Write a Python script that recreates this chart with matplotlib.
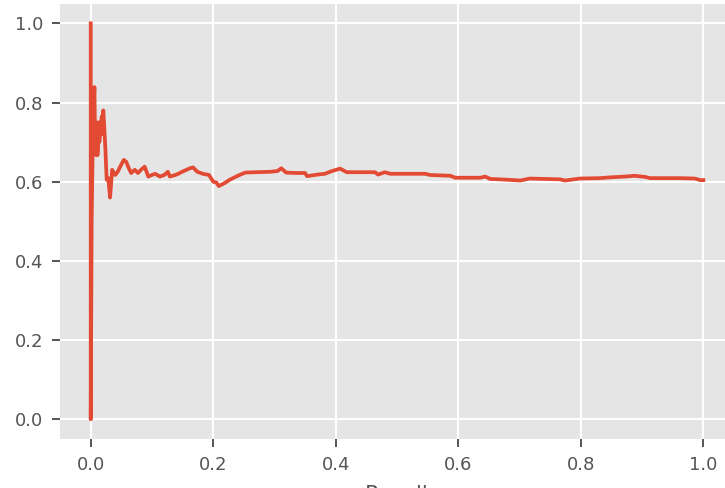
import matplotlib
matplotlib.use('Agg')
import matplotlib.pyplot as plt

# precision / recall pairs, ordered by increasing recall
recall = [
    0.0, 0.0, 0.0015, 0.003, 0.004, 0.005, 0.006, 0.007, 0.008, 0.009,
    0.010, 0.011, 0.012, 0.013, 0.014, 0.016, 0.018, 0.019, 0.0205, 0.022,
    0.024, 0.026, 0.0287, 0.0315, 0.035, 0.040, 0.044, 0.048, 0.054, 0.058,
    0.061, 0.066, 0.072, 0.077, 0.082, 0.088, 0.094, 0.100, 0.105, 0.113,
    0.120, 0.126, 0.129, 0.138, 0.143, 0.149, 0.162, 0.167, 0.174, 0.183,
    0.193, 0.200, 0.205, 0.209, 0.218, 0.227, 0.240, 0.252, 0.270, 0.293,
    0.305, 0.311, 0.319, 0.335, 0.350, 0.353, 0.370, 0.382, 0.394, 0.407,
    0.418, 0.440, 0.464, 0.469, 0.480, 0.489, 0.520, 0.546, 0.554, 0.587,
    0.595, 0.620, 0.636, 0.644, 0.652, 0.680, 0.701, 0.717, 0.740, 0.766,
    0.774, 0.799, 0.831, 0.848, 0.872, 0.888, 0.905, 0.913, 0.940, 0.962,
    0.986, 0.995, 1.0,
]
precision = [
    1.0, 0.0, 0.5, 0.667, 0.75, 0.8, 0.839, 0.714, 0.75, 0.667,
    0.727, 0.667, 0.692, 0.75, 0.70, 0.73, 0.765, 0.72, 0.78, 0.74,
    0.68, 0.605, 0.609, 0.560, 0.630, 0.617, 0.625, 0.638, 0.655, 0.650,
    0.638, 0.622, 0.630, 0.622, 0.630, 0.638, 0.613, 0.617, 0.620, 0.613,
    0.617, 0.625, 0.613, 0.617, 0.620, 0.625, 0.634, 0.636, 0.625, 0.620,
    0.617, 0.600, 0.598, 0.589, 0.596, 0.605, 0.615, 0.623, 0.624, 0.625,
    0.627, 0.634, 0.623, 0.622, 0.622, 0.614, 0.618, 0.620, 0.627, 0.633,
    0.624, 0.624, 0.624, 0.618, 0.624, 0.620, 0.620, 0.620, 0.617, 0.615,
    0.610, 0.610, 0.610, 0.613, 0.607, 0.605, 0.603, 0.608, 0.607, 0.606,
    0.603, 0.608, 0.609, 0.611, 0.613, 0.615, 0.612, 0.609, 0.609, 0.609,
    0.608, 0.604, 0.604,
]

plt.style.use('ggplot')
plt.rcParams['font.family'] = ['DejaVu Sans']

fig = plt.figure(figsize=(7.25, 4.88), dpi=100)
ax = fig.add_axes([0.0829, 0.1002, 0.9295, 0.8926])

ax.plot(recall, precision, color='#E24A33', linewidth=2.7)

ax.set_xticks([0.0, 0.2, 0.4, 0.6, 0.8, 1.0])
ax.set_yticks([0.0, 0.2, 0.4, 0.6, 0.8, 1.0])
ax.tick_params(labelsize=13, length=6, width=1.4, pad=6, colors='#555555')
ax.grid(True, color='white', linewidth=1.5)
for spine in ax.spines.values():
    spine.set_visible(False)

ax.set_xlabel('Recall', fontsize=15.5, color='#555555', labelpad=8)

fig.savefig('out.png', dpi=100)
